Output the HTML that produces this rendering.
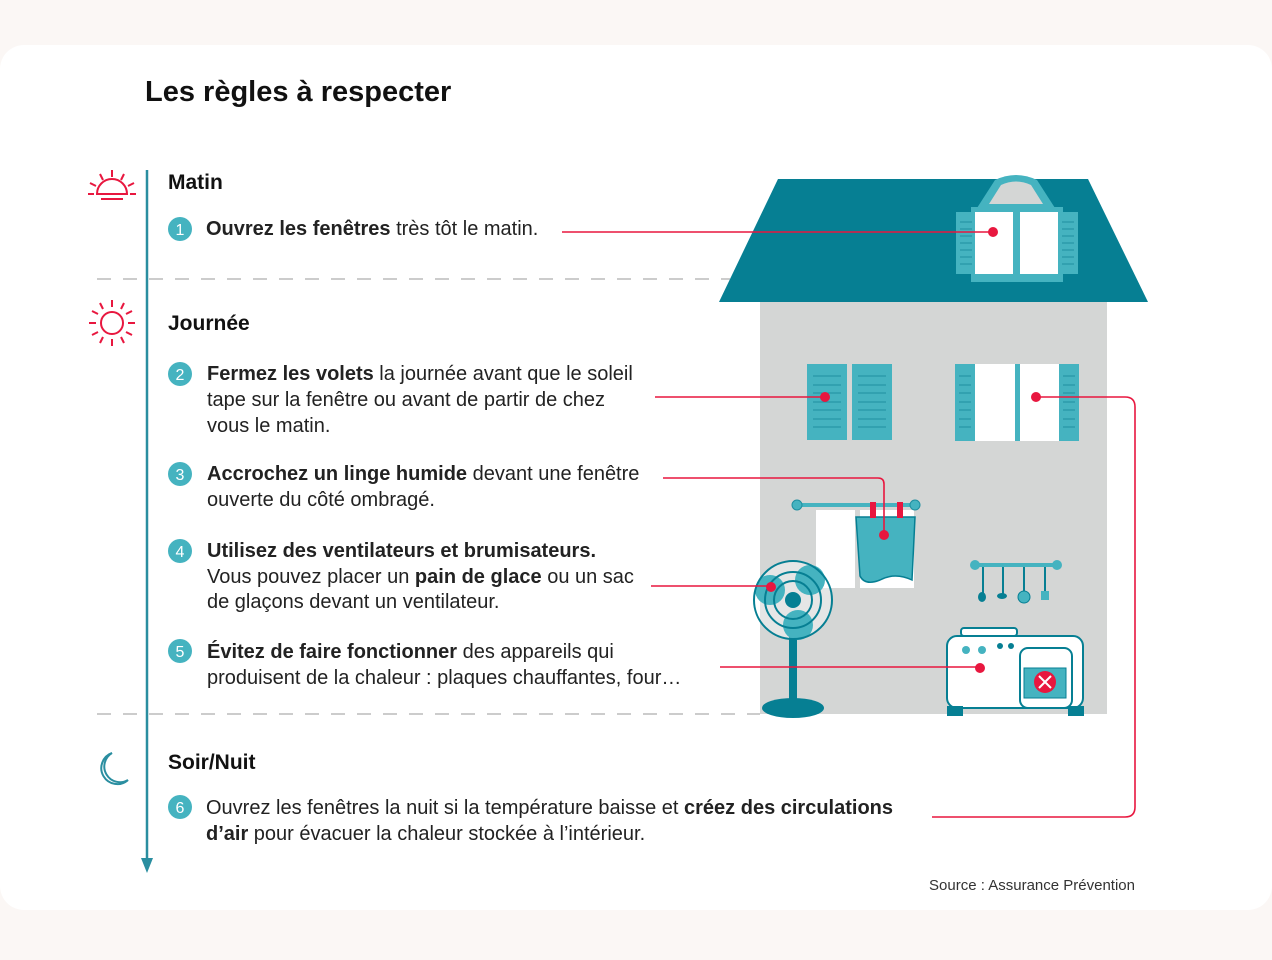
<!DOCTYPE html>
<html><head><meta charset="utf-8"><style>
body{margin:0;background:#fbf7f5}
svg{display:block;font-family:"Liberation Sans",sans-serif}
</style></head><body>
<svg width="1272" height="960" viewBox="0 0 1272 960">
<rect x="0" y="0" width="1272" height="960" fill="#fbf7f5"/>
<rect x="0" y="45" width="1272" height="865" rx="24" fill="#fff"/>
<text x="145" y="101" font-size="29" font-weight="bold" fill="#111">Les règles à respecter</text>
<!-- timeline -->
<line x1="147" y1="170" x2="147" y2="862" stroke="#2a8ea0" stroke-width="2.5"/>
<path d="M141,858 L153,858 L147,873 Z" fill="#2a8ea0"/>
<line x1="97" y1="279" x2="730" y2="279" stroke="#ccc" stroke-width="2" stroke-dasharray="14,12"/>
<line x1="97" y1="714" x2="760" y2="714" stroke="#ccc" stroke-width="2" stroke-dasharray="14,12"/>
<!-- sunrise icon -->
<g stroke="#e8173f" stroke-width="2" fill="none">
<path d="M97,194 A15,15 0 0 1 127,194 Z"/>
<line x1="101" y1="199" x2="123" y2="199"/>
<line x1="112" y1="170" x2="112" y2="177"/><line x1="100" y1="174" x2="103" y2="180"/><line x1="124" y1="174" x2="121" y2="180"/>
<line x1="90" y1="183" x2="96" y2="186"/><line x1="134" y1="183" x2="128" y2="186"/>
<line x1="88" y1="194" x2="94" y2="194"/><line x1="130" y1="194" x2="136" y2="194"/>
<!-- sun -->
<circle cx="112" cy="323" r="11"/>
<line x1="112" y1="300" x2="112" y2="307"/><line x1="112" y1="339" x2="112" y2="346"/>
<line x1="89" y1="323" x2="96" y2="323"/><line x1="128" y1="323" x2="135" y2="323"/>
<line x1="100" y1="303" x2="103" y2="309"/><line x1="124" y1="303" x2="121" y2="309"/>
<line x1="100" y1="343" x2="103" y2="337"/><line x1="124" y1="343" x2="121" y2="337"/>
<line x1="92" y1="311" x2="98" y2="314"/><line x1="132" y1="311" x2="126" y2="314"/>
<line x1="92" y1="335" x2="98" y2="332"/><line x1="132" y1="335" x2="126" y2="332"/>
</g>
<!-- moon -->
<path d="M112,753 A16,16 0 1 0 128,780 A14,14 0 0 1 112,753 Z" fill="none" stroke="#2a8ea0" stroke-width="2"/>
<!-- headings -->
<g font-size="21" font-weight="bold" fill="#111">
<text x="168" y="189">Matin</text><text x="168" y="330">Journée</text><text x="168" y="769">Soir/Nuit</text>
</g>
<!-- numbers -->
<g fill="#45b3c0"><circle cx="180" cy="229" r="12"/><circle cx="180" cy="374" r="12"/><circle cx="180" cy="474" r="12"/><circle cx="180" cy="551" r="12"/><circle cx="180" cy="651" r="12"/><circle cx="180" cy="807" r="12"/></g>
<g fill="#fff" font-size="16" text-anchor="middle">
<text x="180" y="235">1</text><text x="180" y="380">2</text><text x="180" y="480">3</text><text x="180" y="557">4</text><text x="180" y="657">5</text><text x="180" y="813">6</text></g>
<g font-size="20" fill="#222">
<text x="206" y="235"><tspan font-weight="bold">Ouvrez les fenêtres</tspan> très tôt le matin.</text>
<text x="207" y="380"><tspan font-weight="bold">Fermez les volets</tspan> la journée avant que le soleil</text>
<text x="207" y="406">tape sur la fenêtre ou avant de partir de chez</text>
<text x="207" y="432">vous le matin.</text>
<text x="207" y="480"><tspan font-weight="bold">Accrochez un linge humide</tspan> devant une fenêtre</text>
<text x="207" y="506">ouverte du côté ombragé.</text>
<text x="207" y="557" font-weight="bold">Utilisez des ventilateurs et brumisateurs.</text>
<text x="207" y="583">Vous pouvez placer un <tspan font-weight="bold">pain de glace</tspan> ou un sac</text>
<text x="207" y="608">de glaçons devant un ventilateur.</text>
<text x="207" y="658"><tspan font-weight="bold">Évitez de faire fonctionner</tspan> des appareils qui</text>
<text x="207" y="684">produisent de la chaleur : plaques chauffantes, four…</text>
<text x="206" y="814">Ouvrez les fenêtres la nuit si la température baisse et <tspan font-weight="bold">créez des circulations</tspan></text>
<text x="206" y="840"><tspan font-weight="bold">d’air</tspan> pour évacuer la chaleur stockée à l’intérieur.</text>
</g>
<text x="1135" y="890" font-size="15" fill="#333" text-anchor="end">Source : Assurance Prévention</text>
<!-- house -->
<rect x="760" y="300" width="347" height="414" fill="#d4d6d5"/>
<path d="M778,179 L1088,179 L1148,302 L719,302 Z" fill="#067f93"/>
<!-- dormer -->
<path d="M977,208 L995,180 Q1016,170 1037,180 L1055,208 Z" fill="#45b3c0"/>
<path d="M989,204 L1001,185 Q1016,178 1031,185 L1043,204 Z" fill="#d4d6d5"/>
<rect x="971" y="207" width="92" height="75" fill="#45b3c0"/>
<rect x="956" y="212" width="122" height="62" fill="#45b3c0"/>
<rect x="975" y="212" width="38" height="62" fill="#fff"/><rect x="1020" y="212" width="38" height="62" fill="#fff"/>
<g stroke="#1e8fa0" stroke-width="1"><path d="M960,222h12M960,229h12M960,236h12M960,243h12M960,250h12M960,257h12M960,264h12M1062,222h12M1062,229h12M1062,236h12M1062,243h12M1062,250h12M1062,257h12M1062,264h12"/></g>
<!-- closed shutters -->
<rect x="807" y="364" width="40" height="76" fill="#45b3c0"/><rect x="852" y="364" width="40" height="76" fill="#45b3c0"/>
<g stroke="#1e8fa0" stroke-width="1"><path d="M813,376h28M813,385h28M813,393h28M813,402h28M813,410h28M813,419h28M813,427h28M858,376h28M858,385h28M858,393h28M858,402h28M858,410h28M858,419h28M858,427h28"/></g>
<!-- open window -->
<rect x="955" y="364" width="124" height="77" fill="#45b3c0"/>
<rect x="975" y="364" width="40" height="77" fill="#fff"/><rect x="1020" y="364" width="39" height="77" fill="#fff"/>
<g stroke="#1e8fa0" stroke-width="1"><path d="M959,376h12M959,385h12M959,393h12M959,402h12M959,410h12M959,419h12M959,427h12M1063,376h12M1063,385h12M1063,393h12M1063,402h12M1063,410h12M1063,419h12M1063,427h12"/></g>
<!-- linge window -->
<rect x="816" y="510" width="98" height="78" fill="#fff"/>
<rect x="855" y="510" width="5" height="78" fill="#d4d6d5"/>
<line x1="797" y1="505" x2="915" y2="505" stroke="#45b3c0" stroke-width="4"/>
<circle cx="797" cy="505" r="5" fill="#45b3c0" stroke="#1e8fa0"/><circle cx="915" cy="505" r="5" fill="#45b3c0" stroke="#1e8fa0"/>
<path d="M856,517 L915,517 L912,580 Q895,572 880,580 Q865,586 860,576 Z" fill="#45b3c0" stroke="#067f93" stroke-width="1.5"/>
<rect x="870" y="502" width="6" height="16" fill="#e8173f"/><rect x="897" y="502" width="6" height="16" fill="#e8173f"/>
<!-- utensils -->
<line x1="975" y1="565" x2="1057" y2="565" stroke="#45b3c0" stroke-width="4"/>
<circle cx="975" cy="565" r="5" fill="#45b3c0"/><circle cx="1057" cy="565" r="5" fill="#45b3c0"/>
<g stroke="#067f93" stroke-width="2"><line x1="983" y1="567" x2="983" y2="595"/><line x1="1003" y1="567" x2="1003" y2="595"/><line x1="1024" y1="567" x2="1024" y2="593"/><line x1="1045" y1="567" x2="1045" y2="592"/></g>
<ellipse cx="982" cy="597" rx="4" ry="5" fill="#067f93"/><ellipse cx="1002" cy="596" rx="5" ry="3" fill="#067f93"/><circle cx="1024" cy="597" r="6" fill="#45b3c0" stroke="#067f93"/><rect x="1041" y="591" width="8" height="9" fill="#45b3c0"/>
<!-- stove -->
<rect x="961" y="628" width="56" height="8" rx="3" fill="#fff" stroke="#067f93" stroke-width="2"/>
<rect x="947" y="636" width="136" height="72" rx="10" fill="#fff" stroke="#067f93" stroke-width="2"/>
<rect x="1020" y="648" width="52" height="60" rx="8" fill="#fff" stroke="#067f93" stroke-width="2"/>
<rect x="1024" y="668" width="42" height="30" fill="#45b3c0" stroke="#067f93"/>
<circle cx="1045" cy="682" r="11" fill="#e8173f"/><path d="M1039,676 L1051,688 M1051,676 L1039,688" stroke="#fff" stroke-width="2"/>
<circle cx="966" cy="650" r="4" fill="#45b3c0"/><circle cx="982" cy="650" r="4" fill="#45b3c0"/><circle cx="1000" cy="646" r="3" fill="#067f93"/><circle cx="1011" cy="646" r="3" fill="#067f93"/>
<rect x="947" y="706" width="16" height="10" fill="#067f93"/><rect x="1068" y="706" width="16" height="10" fill="#067f93"/>
<!-- fan -->
<rect x="789" y="635" width="8" height="70" fill="#067f93"/>
<ellipse cx="793" cy="708" rx="31" ry="10" fill="#067f93"/>
<circle cx="793" cy="600" r="38" fill="#fff" opacity="0.4"/>
<circle cx="770" cy="590" r="15" fill="#45b3c0"/><circle cx="810" cy="580" r="15" fill="#45b3c0"/><circle cx="798" cy="625" r="15" fill="#45b3c0"/>
<g fill="none" stroke="#067f93" stroke-width="2"><circle cx="793" cy="600" r="39"/><circle cx="793" cy="600" r="28"/><circle cx="793" cy="600" r="19"/></g>
<circle cx="793" cy="600" r="8" fill="#067f93"/>
<!-- connectors -->
<g stroke="#e8173f" stroke-width="1.6" fill="none">
<path d="M562,232 H993"/>
<path d="M655,397 H825"/>
<path d="M1036,397 H1125 Q1135,397 1135,407 V807 Q1135,817 1125,817 H932"/>
<path d="M663,478 H878 Q884,478 884,484 V535"/>
<path d="M651,586 H771"/>
<path d="M720,667 H980"/>
</g>
<g fill="#e8173f"><circle cx="993" cy="232" r="5"/><circle cx="825" cy="397" r="5"/><circle cx="1036" cy="397" r="5"/><circle cx="884" cy="535" r="5"/><circle cx="771" cy="587" r="5"/><circle cx="980" cy="668" r="5"/></g>
</svg>
</body></html>
